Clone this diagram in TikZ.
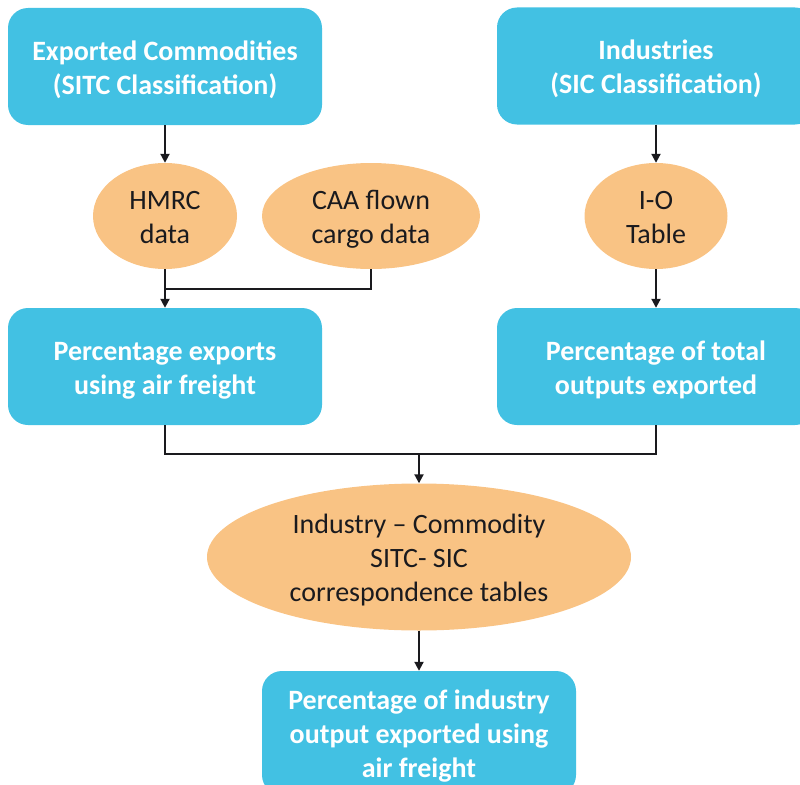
\documentclass[tikz,border=0pt]{standalone}
\usepackage{fontspec}
\setmainfont{Carlito}
\usetikzlibrary{arrows.meta,shapes.geometric}
\definecolor{boxblue}{RGB}{66,193,227}
\definecolor{ovalorange}{RGB}{249,195,132}
\definecolor{ink}{RGB}{26,26,30}
\newcommand\mlines[1]{\raisebox{-4pt}[\height][\depth]{\begin{tabular}{@{}c@{}}#1\end{tabular}}}
\tikzset{
  bluebox/.style={inner sep=0pt, fill=boxblue, draw=none, rounded corners=20pt, text=white,
    font=\bfseries\fontsize{28}{34}\selectfont},
  oval/.style={inner sep=0pt, ellipse, fill=ovalorange, draw=none, text=ink,
    font=\fontsize{28}{34}\selectfont},
  conn/.style={draw=ink, line width=2pt},
  arr/.style={conn, -{Triangle[length=9pt,width=9pt]}}
}
\begin{document}
\begin{tikzpicture}[x=1pt,y=-1pt]
\useasboundingbox (0,0) rectangle (800,784);
\node[bluebox, minimum width=314pt, minimum height=117pt] (ec) at (165,66.5) {\mlines{Exported Commodities\\(SITC Classification)}};
\node[bluebox, minimum width=318pt, minimum height=117pt] (ind) at (656,66) {\mlines{Industries\\(SIC Classification)}};
\node[oval, minimum width=144pt, minimum height=106pt] (hmrc) at (165,216) {\mlines{HMRC\\data}};
\node[oval, minimum width=218pt, minimum height=106pt] (caa) at (371,216) {\mlines{CAA flown\\cargo data}};
\node[oval, minimum width=143pt, minimum height=106pt] (io) at (656,216) {\mlines{I-O\\Table}};
\node[bluebox, minimum width=314pt, minimum height=117pt] (pe) at (165,366.5) {\mlines{Percentage exports\\using air freight}};
\node[bluebox, minimum width=318pt, minimum height=117pt] (pt) at (656,366.5) {\mlines{Percentage of total\\outputs exported}};
\node[oval, minimum width=424pt, minimum height=147pt] (ic) at (419,557) {\mlines{Industry -- Commodity\\SITC- SIC\\correspondence tables}};
\node[bluebox, minimum width=314pt, minimum height=124pt] (pi) at (419,733) {\mlines{Percentage of industry\\output exported using\\air freight}};
\coordinate (jn) at (165,289);
\coordinate (mid) at (419,454);
\draw[arr] (ec.south) -- (hmrc.north);
\draw[arr] (ind.south) -- (io.north);
\draw[arr] (hmrc.south) -- (pe.north);
\draw[conn] (caa.south) |- (jn);
\draw[arr] (io.south) -- (pt.north);
\draw[conn] (pe.south) |- (mid) -| (pt.south);
\draw[arr] (mid) -- (ic.north);
\draw[arr] (ic.south) -- (pi.north);
\end{tikzpicture}
\end{document}
